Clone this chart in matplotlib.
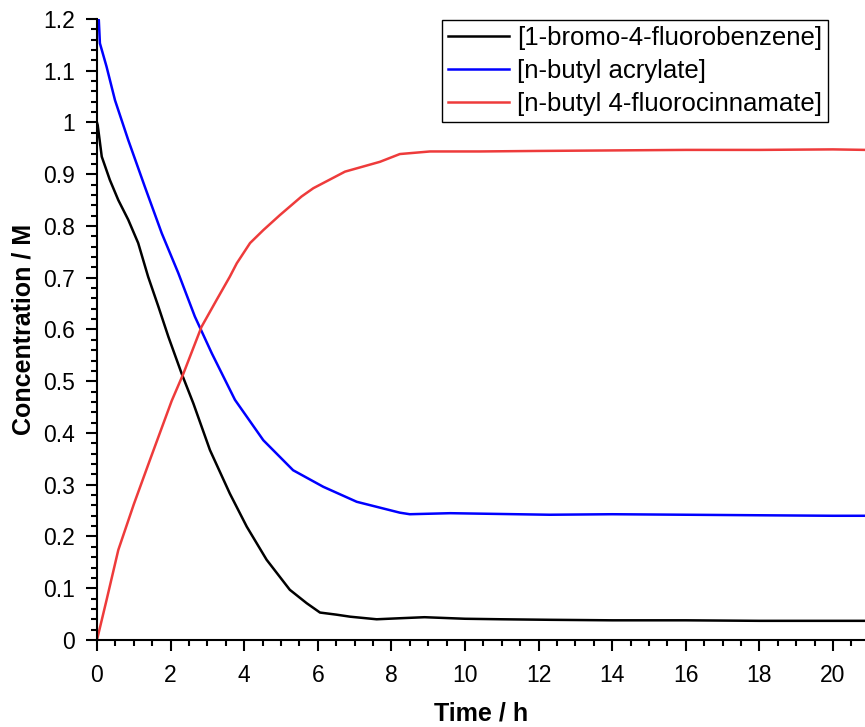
import matplotlib
matplotlib.use("Agg")
import matplotlib.pyplot as plt
from matplotlib.ticker import MultipleLocator

plt.rcParams['font.family'] = ['Liberation Sans', 'DejaVu Sans']

# Data
t_black = [0, 0.02, 0.13, 0.35, 0.58, 0.85, 1.12, 1.39, 1.67, 1.94, 2.30, 2.62, 3.07, 3.61,
           4.07, 4.61, 5.24, 5.70, 6.06, 6.5, 6.88, 7.60, 8.23, 8.9, 10, 11, 12.3, 14, 16, 18, 20, 20.9]
c_black = [1.0, 0.995, 0.934, 0.889, 0.850, 0.812, 0.767, 0.702, 0.644, 0.586, 0.515, 0.457, 0.367, 0.283,
           0.219, 0.155, 0.097, 0.071, 0.053, 0.049, 0.045, 0.040, 0.042, 0.044, 0.041, 0.040, 0.039, 0.038,
           0.038, 0.037, 0.037, 0.037]

t_blue = [0, 0.05, 0.08, 0.26, 0.49, 0.85, 1.30, 1.76, 2.21, 2.66, 3.12, 3.75, 4.52, 5.33, 6.15,
          7.06, 8.23, 8.5, 9.6, 12.3, 14, 16, 18, 20, 20.9]
c_blue = [1.2, 1.198, 1.153, 1.108, 1.043, 0.966, 0.876, 0.786, 0.709, 0.625, 0.554, 0.464, 0.386, 0.328,
          0.296, 0.267, 0.246, 0.243, 0.245, 0.242, 0.243, 0.242, 0.241, 0.240, 0.240]

t_red = [0, 0.26, 0.58, 1.0, 1.44, 2.03, 2.35, 2.84, 3.25, 3.61, 3.80, 4.16, 4.52, 4.97, 5.56, 5.88, 6.74,
         7.69, 8.23, 9.05, 10.4, 12, 14, 16, 18, 20, 20.9]
c_red = [0, 0.077, 0.174, 0.262, 0.348, 0.462, 0.515, 0.605, 0.657, 0.702, 0.728, 0.767, 0.792, 0.821, 0.857,
         0.873, 0.905, 0.924, 0.939, 0.944, 0.944, 0.945, 0.946, 0.947, 0.947, 0.948, 0.947]

labels = ['[1-bromo-4-fluorobenzene]', '[n-butyl acrylate]', '[n-butyl 4-fluorocinnamate]']

fig = plt.figure(figsize=(8.65, 7.27), dpi=100)
ax = fig.add_axes([0.1121, 0.1197, 0.8879, 0.8542])

ax.plot(t_black, c_black, color='black', lw=1.8, label=labels[0])
ax.plot(t_blue, c_blue, color='#0000ff', lw=1.8, label=labels[1])
ax.plot(t_red, c_red, color='#ee3b3b', lw=1.8, label=labels[2])

ax.set_xlim(0, 20.87)
ax.set_ylim(0, 1.2)
ax.xaxis.set_major_locator(MultipleLocator(2))
ax.xaxis.set_minor_locator(MultipleLocator(0.5))
ax.yaxis.set_major_locator(MultipleLocator(0.1))
ax.yaxis.set_minor_locator(MultipleLocator(0.02))

def yfmt(v, pos):
    s = f"{v:.1f}"
    if s.endswith('.0'):
        s = s[:-2]
    return s
ax.yaxis.set_major_formatter(plt.FuncFormatter(yfmt))

for s in ['top', 'right']:
    ax.spines[s].set_visible(False)
for s in ['left', 'bottom']:
    ax.spines[s].set_linewidth(1.5)

ax.tick_params(which='major', direction='out', length=8, width=1.5, labelsize=16.5)
ax.tick_params(which='minor', direction='out', length=4.5, width=1.5)
ax.tick_params(axis='x', which='major', pad=9)
ax.tick_params(axis='y', which='major', pad=8)

ax.set_xlabel('Time / h', fontsize=18, fontweight='bold', labelpad=11)
ax.set_ylabel('Concentration / M', fontsize=18, fontweight='bold', labelpad=5.5)

leg = ax.legend(loc='upper right', bbox_to_anchor=(0.957, 0.9725), bbox_transform=fig.transFigure,
                fontsize=18.5, frameon=True, fancybox=False, framealpha=1, edgecolor='black',
                handlelength=2.4, handletextpad=0.3, labelspacing=0.36, borderpad=0.22, borderaxespad=0)
leg.get_frame().set_linewidth(1.0)

fig.savefig('out.png', dpi=100)
